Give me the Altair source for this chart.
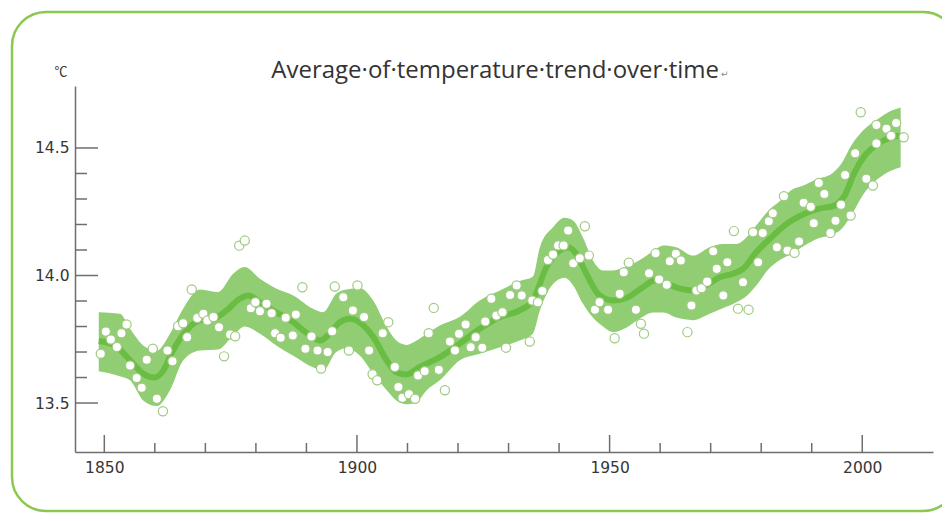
import altair as alt
import pandas as pd

# ---- data ----
pt_year = [1849.3, 1850.3, 1851.3, 1852.5, 1853.4, 1854.4, 1855.1, 1856.4, 1857.4, 1858.4,
           1859.6, 1860.4, 1861.6, 1862.5, 1863.5, 1864.6, 1865.6, 1866.4, 1867.3, 1868.4,
           1869.6, 1870.4, 1871.6, 1872.7, 1873.7, 1874.9, 1875.9, 1876.7, 1877.8, 1879.0,
           1879.9, 1880.8, 1882.1, 1883.1, 1883.8, 1884.9, 1885.9, 1887.3, 1887.9, 1889.2,
           1889.8, 1891.0, 1892.2, 1892.9, 1894.2, 1895.1, 1895.6, 1897.3, 1898.4, 1899.2,
           1900.1, 1901.4, 1902.4, 1903.1, 1904.0, 1905.1, 1906.2, 1907.5, 1908.2, 1909.0,
           1910.3, 1911.5, 1912.1, 1913.4, 1914.2, 1915.2, 1916.2, 1917.4, 1918.4, 1919.4,
           1920.2, 1921.5, 1922.5, 1923.5, 1924.8, 1925.4, 1926.6, 1927.6, 1928.8, 1929.5,
           1930.3, 1931.6, 1932.6, 1934.2, 1934.7, 1935.8, 1936.7, 1937.8, 1938.8, 1939.8,
           1940.9, 1941.8, 1942.8, 1944.1, 1945.1, 1945.9, 1947.1, 1948.0, 1949.7, 1951.0,
           1952.0, 1952.8, 1953.8, 1955.2, 1956.2, 1956.8, 1957.8, 1959.1, 1959.8, 1961.3,
           1961.9, 1963.1, 1964.1, 1965.4, 1966.2, 1967.2, 1968.2, 1969.3, 1970.5, 1971.2,
           1972.5, 1973.3, 1974.6, 1975.4, 1976.4, 1977.5, 1978.4, 1979.4, 1980.3, 1981.5,
           1982.3, 1983.1, 1984.5, 1985.2, 1986.6, 1987.5, 1988.4, 1989.8, 1990.4, 1991.4,
           1992.5, 1993.7, 1994.7, 1995.8, 1996.6, 1997.7, 1998.6, 1999.7, 2000.8, 2002.1,
           2002.8, 2002.8, 2004.8, 2005.7, 2006.7, 2008.2]
pt_temp = [13.693, 13.780, 13.749, 13.720, 13.774, 13.808, 13.647, 13.598, 13.560, 13.670,
           13.713, 13.517, 13.468, 13.706, 13.664, 13.801, 13.813, 13.758, 13.945, 13.833,
           13.850, 13.824, 13.837, 13.797, 13.683, 13.769, 13.762, 14.117, 14.137, 13.872,
           13.895, 13.860, 13.889, 13.852, 13.774, 13.756, 13.834, 13.765, 13.847, 13.954,
           13.713, 13.761, 13.706, 13.635, 13.700, 13.781, 13.957, 13.915, 13.706, 13.863,
           13.961, 13.837, 13.706, 13.613, 13.589, 13.774, 13.817, 13.641, 13.563, 13.521,
           13.534, 13.517, 13.608, 13.625, 13.774, 13.873, 13.630, 13.550, 13.741, 13.706,
           13.772, 13.808, 13.719, 13.758, 13.717, 13.820, 13.909, 13.843, 13.856, 13.717,
           13.924, 13.961, 13.922, 13.741, 13.902, 13.895, 13.939, 14.061, 14.082, 14.118,
           14.118, 14.176, 14.048, 14.068, 14.193, 14.078, 13.866, 13.895, 13.866, 13.754,
           13.928, 14.013, 14.050, 13.866, 13.811, 13.772, 14.009, 14.087, 13.984, 13.964,
           14.056, 14.085, 14.059, 13.778, 13.882, 13.941, 13.950, 13.976, 14.095, 14.026,
           13.922, 14.052, 14.174, 13.870, 13.974, 13.866, 14.170, 14.052, 14.167, 14.213,
           14.244, 14.111, 14.311, 14.098, 14.089, 14.133, 14.285, 14.270, 14.205, 14.363,
           14.320, 14.167, 14.215, 14.277, 14.394, 14.235, 14.479, 14.640, 14.379, 14.353,
           14.518, 14.590, 14.575, 14.548, 14.598, 14.542]

line_year = [1848.9, 1852.1, 1855.1, 1857.7, 1860.0, 1861.7, 1863.6, 1866.3, 1868.9, 1871.6,
             1874.2, 1876.8, 1878.5, 1880.8, 1883.4, 1887.4, 1890.7, 1892.7, 1894.6, 1896.6,
             1898.6, 1900.6, 1903.2, 1905.9, 1907.8, 1909.8, 1912.4, 1916.4, 1920.3, 1924.3,
             1928.3, 1932.2, 1934.8, 1937.5, 1940.1, 1941.8, 1943.4, 1945.4, 1948.0, 1950.7,
             1953.3, 1956.6, 1958.9, 1960.6, 1963.3, 1966.5, 1969.1, 1971.8, 1974.4, 1976.4,
             1979.0, 1981.7, 1984.6, 1988.6, 1991.2, 1994.5, 1996.5, 1998.5, 2000.5, 2003.1,
             2005.7, 2007.4]
line_temp = [13.743, 13.726, 13.667, 13.615, 13.600, 13.628, 13.706, 13.785, 13.824, 13.830,
             13.863, 13.909, 13.922, 13.895, 13.863, 13.817, 13.765, 13.745, 13.772, 13.817,
             13.830, 13.815, 13.760, 13.667, 13.621, 13.612, 13.641, 13.680, 13.732, 13.791,
             13.837, 13.863, 13.902, 14.033, 14.098, 14.111, 14.085, 14.007, 13.922, 13.902,
             13.912, 13.954, 13.980, 13.974, 13.952, 13.941, 13.961, 13.993, 14.007, 14.026,
             14.091, 14.144, 14.196, 14.242, 14.261, 14.274, 14.313, 14.405, 14.470, 14.516,
             14.542, 14.548]

band_year = [1848.9, 1853.1, 1855.1, 1857.7, 1860.4, 1863.0, 1865.6, 1868.9, 1872.5, 1875.5,
             1877.8, 1880.8, 1884.1, 1887.4, 1891.3, 1893.3, 1895.9, 1897.9, 1900.6, 1903.2,
             1905.9, 1907.8, 1909.8, 1911.8, 1913.8, 1916.4, 1920.3, 1924.3, 1928.3, 1932.2,
             1934.8, 1936.2, 1938.8, 1941.1, 1942.8, 1944.7, 1946.7, 1948.7, 1950.7, 1953.3,
             1955.9, 1958.6, 1960.6, 1963.2, 1966.5, 1969.8, 1972.4, 1975.1, 1977.1, 1979.0,
             1981.7, 1983.6, 1986.0, 1988.6, 1991.2, 1993.9, 1995.8, 1997.8, 2000.5, 2003.1,
             2005.7, 2007.6]
band_hi = [13.856, 13.850, 13.791, 13.726, 13.706, 13.772, 13.870, 13.945, 13.935, 14.007,
           14.033, 13.987, 13.948, 13.922, 13.870, 13.856, 13.928, 13.945, 13.950, 13.902,
           13.798, 13.745, 13.728, 13.745, 13.772, 13.804, 13.837, 13.902, 13.941, 13.978,
           13.995, 14.111, 14.189, 14.226, 14.215, 14.150, 14.059, 14.020, 14.020, 14.035,
           14.060, 14.095, 14.118, 14.111, 14.078, 14.111, 14.124, 14.124, 14.150, 14.196,
           14.260, 14.290, 14.335, 14.355, 14.379, 14.398, 14.437, 14.509, 14.575, 14.614,
           14.646, 14.659]
band_lo = [13.625, 13.605, 13.589, 13.510, 13.488, 13.550, 13.667, 13.706, 13.710, 13.765,
           13.800, 13.772, 13.725, 13.685, 13.640, 13.628, 13.700, 13.715, 13.685, 13.615,
           13.550, 13.510, 13.495, 13.504, 13.550, 13.589, 13.667, 13.693, 13.719, 13.745,
           13.772, 13.863, 13.967, 13.991, 13.961, 13.890, 13.835, 13.800, 13.778, 13.795,
           13.830, 13.855, 13.855, 13.835, 13.825, 13.850, 13.872, 13.895, 13.920, 13.960,
           14.030, 14.060, 14.085, 14.118, 14.145, 14.160, 14.180, 14.235, 14.326, 14.379,
           14.411, 14.424]

x_major = [1850, 1900, 1950, 2000]
x_minor = [1860, 1870, 1880, 1890, 1910, 1920, 1930, 1940, 1960, 1970, 1980, 1990]
y_major = [13.5, 14.0, 14.5]
y_minor = [13.6, 13.7, 13.8, 13.9, 14.1, 14.2, 14.3, 14.4]

title_text = "Average·of·temperature·trend·over·time"
title_mark = "↵"
unit_text = "℃"

# ---- layout (whole SVG 934 x 505 so the page never scrolls) ----
W, H = 858, 366
X_DOM = [1844.2, 2014.0]
Y_DOM = [13.308, 14.743]

xs = alt.Scale(domain=X_DOM, nice=False, zero=False)
ys = alt.Scale(domain=Y_DOM, nice=False, zero=False)

pts = pd.DataFrame({"year": pt_year, "temp": pt_temp})
line_df = pd.DataFrame({"year": line_year, "temp": line_temp})
band_df = pd.DataFrame({"year": band_year, "hi": band_hi, "lo": band_lo})

axis_col = "#6e6e6e"
label_col = "#363636"

frame = alt.Chart(pd.DataFrame({"k": [0]})).mark_rect(
    fill="white", fillOpacity=0, stroke="#8cc84f", strokeWidth=2.5, cornerRadius=34
).encode(x=alt.value(-63), x2=alt.value(882), y=alt.value(-74), y2=alt.value(425))

band = alt.Chart(band_df).mark_area(color="#91cd73", opacity=1, interpolate="monotone").encode(
    x=alt.X("year:Q", scale=xs,
            axis=alt.Axis(values=x_major, format="d", ticks=False, grid=False, domainColor=axis_col,
                          domainWidth=1.5, labelColor=label_col, labelFont="DejaVu Sans",
                          labelFontSize=15.5, labelPadding=8, title=None)),
    y=alt.Y("lo:Q", scale=ys,
            axis=alt.Axis(values=y_major, format=".1f", ticks=False, grid=False, domainColor=axis_col,
                          domainWidth=1.5, labelColor=label_col, labelFont="DejaVu Sans",
                          labelFontSize=15.5, labelPadding=6, title=None)),
    y2="hi:Q",
)

line = alt.Chart(line_df).mark_line(color="#69bd42", strokeWidth=6, interpolate="monotone").encode(
    x=alt.X("year:Q", scale=xs), y=alt.Y("temp:Q", scale=ys)
)

points = alt.Chart(pts).mark_point(
    shape="circle", filled=True, fill="white", fillOpacity=1, stroke="#9fca82", strokeWidth=1.2,
    size=85, opacity=1
).encode(x=alt.X("year:Q", scale=xs), y=alt.Y("temp:Q", scale=ys))

ymaj = alt.Chart(pd.DataFrame({"v": y_major})).mark_rule(color=axis_col, strokeWidth=1.5).encode(
    y=alt.Y("v:Q", scale=ys), x=alt.value(0), x2=alt.value(23))
ymin = alt.Chart(pd.DataFrame({"v": y_minor})).mark_rule(color=axis_col, strokeWidth=1.5).encode(
    y=alt.Y("v:Q", scale=ys), x=alt.value(0), x2=alt.value(12))
xmaj = alt.Chart(pd.DataFrame({"v": x_major})).mark_rule(color=axis_col, strokeWidth=1.5).encode(
    x=alt.X("v:Q", scale=xs), y=alt.value(H), y2=alt.value(H - 17))
xmin = alt.Chart(pd.DataFrame({"v": x_minor})).mark_rule(color=axis_col, strokeWidth=1.5).encode(
    x=alt.X("v:Q", scale=xs), y=alt.value(H), y2=alt.value(H - 9))

title = alt.Chart(pd.DataFrame({"t": [title_text]})).mark_text(
    font="Open Sans", fontSize=24, color="#333333", align="right", baseline="alphabetic"
).encode(text="t:N", x=alt.value(644), y=alt.value(-8))

title_end = alt.Chart(pd.DataFrame({"t": [title_mark]})).mark_text(
    font="DejaVu Sans", fontSize=9, color="#888888", align="left", baseline="alphabetic"
).encode(text="t:N", x=alt.value(646), y=alt.value(-9))

unit = alt.Chart(pd.DataFrame({"t": [unit_text]})).mark_text(
    font="Noto Sans CJK SC", fontSize=13, color="#333333", align="center", baseline="middle"
).encode(text="t:N", x=alt.value(-14), y=alt.value(-14))

chart = alt.layer(frame, band, line, points, ymaj, ymin, xmaj, xmin, title, title_end, unit).properties(
    width=W, height=H,
    autosize=alt.AutoSizeParams(type="none"),
    padding={"left": 67, "top": 78, "right": 9, "bottom": 61},
).configure(background="white", view=alt.ViewConfig(stroke=None))

chart.save("out.html", embed_options={"renderer": "svg", "actions": False})
